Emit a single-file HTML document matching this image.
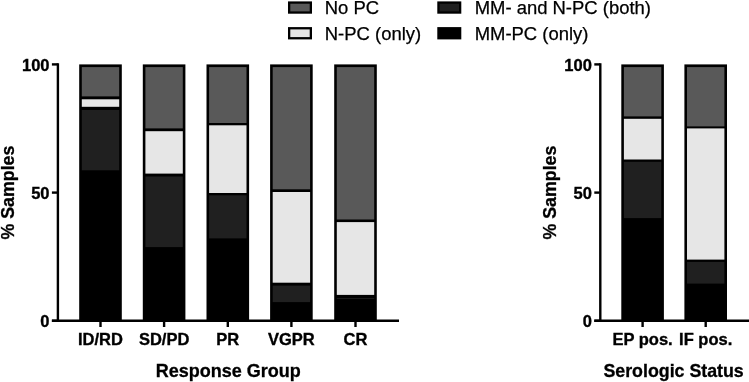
<!DOCTYPE html>
<html><head><meta charset="utf-8"><style>
html,body{margin:0;padding:0;background:#fff;}
svg{display:block;will-change:transform;}
text{font-family:"Liberation Sans",sans-serif;fill:#000;}
.lg{font-size:18.45px;stroke:#000;stroke-width:0.25px;}
.tk{font-size:16.5px;font-weight:bold;stroke:#000;stroke-width:0.35px;}
.xl{font-size:16.5px;font-weight:bold;stroke:#000;stroke-width:0.35px;}
.ti{font-size:17.8px;font-weight:bold;stroke:#000;stroke-width:0.3px;}
</style></head><body>
<svg width="749" height="382" viewBox="0 0 749 382">
<rect width="749" height="382" fill="#fff"/>
<rect x="289.15" y="2.55" width="21.7" height="10" fill="#595959" stroke="#000" stroke-width="2.3"/>
<rect x="289.15" y="28.25" width="21.7" height="10" fill="#e6e6e6" stroke="#000" stroke-width="2.3"/>
<rect x="438.45" y="2.55" width="21.7" height="10" fill="#202020" stroke="#000" stroke-width="2.3"/>
<rect x="438.45" y="28.25" width="21.7" height="10" fill="#000000" stroke="#000" stroke-width="2.3"/>
<text x="324.8" y="13.6" class="lg">No PC</text>
<text x="324.8" y="39.5" class="lg">N-PC (only)</text>
<text x="474.7" y="13.6" class="lg">MM- and N-PC (both)</text>
<text x="474.7" y="39.5" class="lg">MM-PC (only)</text>
<line x1="57.9" y1="63.2" x2="57.9" y2="320.8" stroke="#000" stroke-width="2.4"/>
<line x1="51.9" y1="64.4" x2="57.9" y2="64.4" stroke="#000" stroke-width="2.4"/>
<text x="49.5" y="70.6" class="tk" text-anchor="end">100</text>
<line x1="51.9" y1="192.6" x2="57.9" y2="192.6" stroke="#000" stroke-width="2.4"/>
<text x="49.5" y="198.8" class="tk" text-anchor="end">50</text>
<line x1="51.9" y1="320.8" x2="57.9" y2="320.8" stroke="#000" stroke-width="2.4"/>
<text x="49.5" y="327" class="tk" text-anchor="end">0</text>
<line x1="600.3" y1="63.2" x2="600.3" y2="320.8" stroke="#000" stroke-width="2.4"/>
<line x1="594.3" y1="64.4" x2="600.3" y2="64.4" stroke="#000" stroke-width="2.4"/>
<text x="591.9" y="70.6" class="tk" text-anchor="end">100</text>
<line x1="594.3" y1="192.6" x2="600.3" y2="192.6" stroke="#000" stroke-width="2.4"/>
<text x="591.9" y="198.8" class="tk" text-anchor="end">50</text>
<line x1="594.3" y1="320.8" x2="600.3" y2="320.8" stroke="#000" stroke-width="2.4"/>
<text x="591.9" y="327" class="tk" text-anchor="end">0</text>
<line x1="51.9" y1="320.8" x2="399" y2="320.8" stroke="#000" stroke-width="2.4"/>
<line x1="594.3" y1="320.8" x2="749" y2="320.8" stroke="#000" stroke-width="2.4"/>
<rect x="79.2" y="64.4" width="42.6" height="256.4" fill="#000"/>
<rect x="81.8" y="67.1" width="37.4" height="29.3" fill="#595959"/>
<rect x="81.8" y="99.3" width="37.4" height="7.5" fill="#e6e6e6"/>
<rect x="81.8" y="110" width="37.4" height="60.3" fill="#202020"/>
<line x1="100.5" y1="320.8" x2="100.5" y2="327" stroke="#000" stroke-width="2.4"/>
<text x="100.5" y="344.8" class="xl" text-anchor="middle">ID/RD</text>
<rect x="142.8" y="64.4" width="42.6" height="256.4" fill="#000"/>
<rect x="145.4" y="67.1" width="37.4" height="61.3" fill="#595959"/>
<rect x="145.4" y="131.2" width="37.4" height="42.4" fill="#e6e6e6"/>
<rect x="145.4" y="176.5" width="37.4" height="70.6" fill="#202020"/>
<line x1="164.1" y1="320.8" x2="164.1" y2="327" stroke="#000" stroke-width="2.4"/>
<text x="164.1" y="344.8" class="xl" text-anchor="middle">SD/PD</text>
<rect x="206.5" y="64.4" width="42.6" height="256.4" fill="#000"/>
<rect x="209.1" y="67.1" width="37.4" height="55.9" fill="#595959"/>
<rect x="209.1" y="125.3" width="37.4" height="67.7" fill="#e6e6e6"/>
<rect x="209.1" y="195.3" width="37.4" height="43.1" fill="#202020"/>
<line x1="227.8" y1="320.8" x2="227.8" y2="327" stroke="#000" stroke-width="2.4"/>
<text x="227.8" y="344.8" class="xl" text-anchor="middle">PR</text>
<rect x="270.1" y="64.4" width="42.6" height="256.4" fill="#000"/>
<rect x="272.7" y="67.1" width="37.4" height="122.2" fill="#595959"/>
<rect x="272.7" y="192" width="37.4" height="90.7" fill="#e6e6e6"/>
<rect x="272.7" y="285.6" width="37.4" height="16.5" fill="#202020"/>
<line x1="291.4" y1="320.8" x2="291.4" y2="327" stroke="#000" stroke-width="2.4"/>
<text x="291.4" y="344.8" class="xl" text-anchor="middle">VGPR</text>
<rect x="334.2" y="64.4" width="42.6" height="256.4" fill="#000"/>
<rect x="336.8" y="67.1" width="37.4" height="152.4" fill="#595959"/>
<rect x="336.8" y="222.1" width="37.4" height="72.8" fill="#e6e6e6"/>
<rect x="336.8" y="298" width="37.4" height="0.8" fill="#202020"/>
<line x1="355.5" y1="320.8" x2="355.5" y2="327" stroke="#000" stroke-width="2.4"/>
<text x="355.5" y="344.8" class="xl" text-anchor="middle">CR</text>
<rect x="621.3" y="64.4" width="42.6" height="256.4" fill="#000"/>
<rect x="623.9" y="67.1" width="37.4" height="49.3" fill="#595959"/>
<rect x="623.9" y="118.8" width="37.4" height="40.7" fill="#e6e6e6"/>
<rect x="623.9" y="161.8" width="37.4" height="56.3" fill="#202020"/>
<line x1="642.6" y1="320.8" x2="642.6" y2="327" stroke="#000" stroke-width="2.4"/>
<text x="642.6" y="344.8" class="xl" text-anchor="middle">EP pos.</text>
<rect x="684.4" y="64.4" width="42.6" height="256.4" fill="#000"/>
<rect x="687" y="67.1" width="37.4" height="59.3" fill="#595959"/>
<rect x="687" y="128.4" width="37.4" height="131.2" fill="#e6e6e6"/>
<rect x="687" y="261.9" width="37.4" height="21.7" fill="#202020"/>
<line x1="705.7" y1="320.8" x2="705.7" y2="327" stroke="#000" stroke-width="2.4"/>
<text x="705.7" y="344.8" class="xl" text-anchor="middle">IF pos.</text>
<text x="228.3" y="377.2" class="ti" style="font-size:18px" text-anchor="middle">Response Group</text>
<text x="673.6" y="377.2" class="ti" text-anchor="middle">Serologic Status</text>
<text transform="translate(13.7 192.6) rotate(-90)" class="ti" text-anchor="middle">% Samples</text>
<text transform="translate(555.9 192.6) rotate(-90)" class="ti" text-anchor="middle">% Samples</text>
</svg>
</body></html>
